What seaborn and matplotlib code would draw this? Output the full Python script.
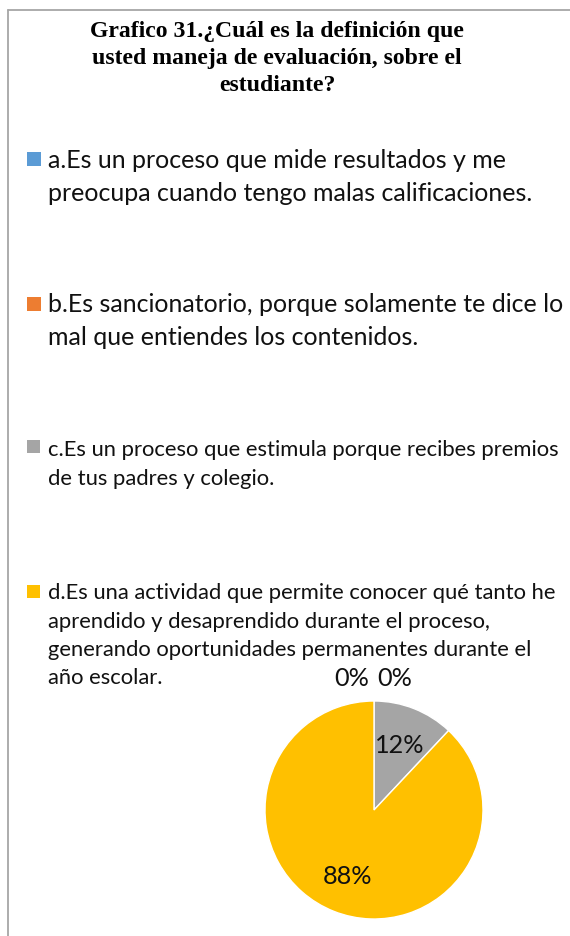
import numpy as np
import pandas as pd
import matplotlib
matplotlib.use("Agg")
import matplotlib.pyplot as plt
import seaborn as sns
from matplotlib.patches import Rectangle

# ---------------- data ----------------
title_lines = [
    "Grafico 31.¿Cuál es la definición que",
    "usted maneja de evaluación, sobre el",
    "estudiante?",
]
categories = ["a", "b", "c", "d"]
legend_lines = [
    ["a.Es un proceso que mide resultados y me",
     "preocupa cuando tengo malas calificaciones."],
    ["b.Es sancionatorio, porque solamente te dice lo",
     "mal que entiendes los contenidos."],
    ["c.Es un proceso que estimula porque recibes premios",
     "de tus padres y colegio."],
    ["d.Es una actividad que permite conocer qué tanto he",
     "aprendido y desaprendido durante el proceso,",
     "generando oportunidades permanentes durante el",
     "año escolar."],
]
values = [0, 0, 12, 88]
pct_labels = ["0%", "0%", "12%", "88%"]
colors = ["#5B9BD5", "#ED7D31", "#A5A5A5", "#FFC000"]

df = pd.DataFrame({"cat": categories, "value": values, "label": pct_labels})

# ---------------- style ----------------
sns.set_theme(style="white")
palette = sns.color_palette(colors)
plt.rcParams['font.family'] = ['Lato', 'DejaVu Sans']

W, H = 570, 937
fig = plt.figure(figsize=(W / 100, H / 100), dpi=100)
fig.patch.set_facecolor("white")
renderer = fig.canvas.get_renderer()

over = fig.add_axes([0, 0, 1, 1])
over.set_xlim(0, W)
over.set_ylim(H, 0)
over.axis("off")


def fit(t, target):
    w = t.get_window_extent(renderer).width
    t.set_fontsize(t.get_fontsize() * target / w)
    return t.get_fontsize()


# border (left & top)
over.plot([8, 8], [11, H + 5], color="#A6A6A6", lw=1.3, clip_on=False)
over.plot([8, W + 5], [11, 11], color="#A6A6A6", lw=1.3, clip_on=False)

# ---------------- title ----------------
tfont = ["Liberation Serif", "DejaVu Serif"]
t0 = over.text(277, 37, title_lines[0], ha="center", va="baseline",
               fontsize=15, fontweight="bold", family=tfont, color="black")
tsize = fit(t0, 374)
for line, yb in zip(title_lines[1:], [64, 91]):
    over.text(277, yb, line, ha="center", va="baseline", fontsize=tsize,
              fontweight="bold", family=tfont, color="black")

# ---------------- legend ----------------
baselines = [[168, 201], [312, 345], [456, 485], [599, 628, 656, 684]]
marker_y = [153, 298, 441, 586]
marker_size = [14, 14, 13, 13]

probe1 = over.text(0, 0, legend_lines[1][0], fontsize=18)
size_ab = fit(probe1, 515)
probe1.remove()
probe2 = over.text(0, 0, legend_lines[3][0], fontsize=16)
size_cd = fit(probe2, 511)
probe2.remove()
sizes = [size_ab, size_ab, size_cd, size_cd]

for i, cat in enumerate(categories):
    over.add_patch(Rectangle((27, marker_y[i]), marker_size[i], marker_size[i],
                             facecolor=palette[i], edgecolor="none"))
    for line, yb in zip(legend_lines[i], baselines[i]):
        over.text(48, yb, line, ha="left", va="baseline", fontsize=sizes[i],
                  color="#111111")

# ---------------- pie ----------------
cx, cy, r = 374, 811, 109
pax = fig.add_axes([(cx - r) / W, (H - (cy + r)) / H, 2 * r / W, 2 * r / H])
pax.pie(df["value"], colors=palette, startangle=90, counterclock=False,
        wedgeprops=dict(edgecolor="white", linewidth=1.0))
pax.set_xlim(-1, 1)
pax.set_ylim(-1, 1)
pax.set_aspect("equal")

total = df["value"].sum()
cum = np.cumsum([0] + list(df["value"]))
zero_offsets = [9.5, -9]
zi = 0
lab_texts = []
for i, (v, lab) in enumerate(zip(df["value"], df["label"])):
    mid = 90 - 360 * (cum[i] + v / 2) / total
    if v == 0:
        ang = np.deg2rad(mid + zero_offsets[zi])
        zi += 1
        rr = 1.23
    else:
        ang = np.deg2rad(mid)
        rr = 0.65
    t = pax.text(rr * np.cos(ang), rr * np.sin(ang), lab, ha="center",
                 va="center", fontsize=16, color="#111111", clip_on=False)
    lab_texts.append(t)

psize = fit(lab_texts[3], 50)
for t in lab_texts:
    t.set_fontsize(psize)

fig.savefig("out.png", dpi=100, facecolor="white")
